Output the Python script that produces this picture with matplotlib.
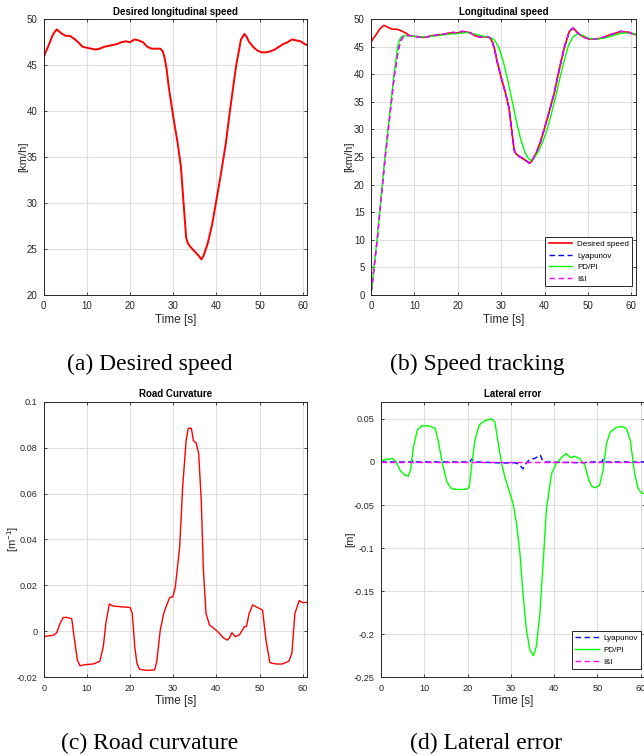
import matplotlib
matplotlib.use("Agg")
import matplotlib.pyplot as plt
from matplotlib.ticker import FuncFormatter

plt.rcParams['font.family'] = ['Liberation Sans', 'DejaVu Sans']
plt.rcParams['mathtext.fontset'] = 'custom'
plt.rcParams['mathtext.rm'] = 'Liberation Sans'

# Gewuenschte Laengsgeschwindigkeit [km/h]
speed_t = [0, 0.5, 1, 1.5, 2, 2.5, 3, 3.5, 4, 5, 6, 7, 8, 9, 10, 11, 12, 13, 14, 15,
           16, 17, 18, 19, 20, 21, 22, 23, 24, 25, 26, 27, 27.6, 28, 28.5, 29, 29.5,
           30, 31, 31.8, 32.4, 33, 33.4, 34, 35, 36, 36.5, 37, 38, 39, 39.9, 41, 42.2,
           43, 43.8, 44.6, 45.2, 45.7, 46.5, 47, 47.5, 48.5, 49.5, 50.5, 51.5, 52.5,
           53.5, 54.5, 55.5, 56.5, 57.5, 58.5, 59.5, 60.5, 61]
speed_v = [45.8, 46.5, 47.0, 47.6, 48.2, 48.6, 48.9, 48.7, 48.5, 48.2, 48.2, 47.9, 47.5,
           47.0, 46.9, 46.8, 46.7, 46.8, 47.0, 47.1, 47.2, 47.3, 47.5, 47.6, 47.5, 47.8,
           47.7, 47.5, 47.0, 46.8, 46.8, 46.8, 46.5, 45.8, 44.5, 42.5, 41.0, 39.4, 36.6,
           33.9, 30.0, 26.2, 25.6, 25.2, 24.7, 24.2, 23.85, 24.2, 25.6, 27.6, 30.0, 33.0,
           36.5, 39.5, 42.3, 45.0, 46.5, 47.8, 48.4, 48.1, 47.6, 47.0, 46.6, 46.4, 46.4,
           46.5, 46.7, 47.0, 47.3, 47.5, 47.8, 47.7, 47.6, 47.3, 47.2]

# Anfahrt der Regler (danach folgen Lyapunov und I&I der Sollgeschwindigkeit)
ramp_t = [0, 0.15, 1.5, 3.2, 5.4, 6.3, 6.9, 7.5, 8.2]
ramp_v = [0.5, 1.0, 10.5, 24.5, 40.0, 44.5, 46.2, 46.9, 47.1]
k = next(i for i, t in enumerate(speed_t) if t > 8.2)
lyap_t = ramp_t + speed_t[k:]
lyap_v = ramp_v + speed_v[k:]
ii_t = lyap_t
ii_v = lyap_v

pd_t = [0, 0.15, 1.45, 3.15, 5.3, 6.1, 6.6, 7.1, 7.6, 8.5, 10, 12, 14, 16, 18, 20, 22, 24,
        26, 27.5, 28.5, 29.5, 30.5, 31.5, 32.5, 33.5, 34.5, 35.5, 36.2, 36.8, 37.5, 38.5,
        39.5, 40.5, 41.5, 42.5, 43.5, 44.5, 45.5, 46.5, 47.5, 48, 49, 50, 51, 52, 54, 56,
        58, 60, 61]
pd_v = [0.5, 1.0, 10.5, 24.5, 40.0, 45.0, 46.3, 46.9, 47.0, 47.0, 46.9, 46.8, 46.9, 47.1,
        47.3, 47.4, 47.6, 47.3, 46.9, 46.7, 46.2, 44.8, 42.3, 39.0, 35.3, 31.5, 28.2, 25.8,
        24.8, 24.4, 24.7, 25.9, 27.6, 29.8, 32.6, 35.8, 39.2, 42.5, 45.2, 46.8, 47.3, 47.3,
        47.0, 46.6, 46.4, 46.4, 46.6, 47.1, 47.5, 47.5, 47.3]

# Strassenkruemmung [1/m]
curv_t = [0, 2.2, 3.0, 3.8, 4.5, 5.3, 6.5, 7.0, 7.8, 8.4, 9.5, 11.5, 13.0, 13.8, 14.4, 15.2,
          16.1, 20.0, 20.5, 21.1, 21.6, 22.2, 23.8, 25.7, 26.2, 27.0, 27.8, 28.5, 29.2, 29.9,
          30.5, 31.5, 32.2, 33.0, 33.5, 34.2, 34.7, 35.3, 35.9, 36.5, 37.0, 37.6, 38.4, 39.9,
          40.7, 41.5, 42.5, 43.0, 43.6, 44.4, 45.3, 46.5, 47.0, 47.6, 48.4, 49.5, 50.7, 51.5,
          52.4, 53.8, 55.3, 56.8, 57.5, 58.2, 59.2, 60.0, 61.0]
curv_v = [-0.0023, -0.0017, -0.0006, 0.0035, 0.006, 0.0061, 0.0055, -0.002, -0.0125, -0.015,
          -0.0145, -0.0142, -0.013, -0.0067, 0.0035, 0.0119, 0.011, 0.0104, 0.008, -0.0067,
          -0.014, -0.0165, -0.017, -0.0168, -0.013, 0.0006, 0.0078, 0.0115, 0.0148, 0.015,
          0.0194, 0.0369, 0.063, 0.0833, 0.0884, 0.0884, 0.083, 0.082, 0.0775, 0.057, 0.0267,
          0.0078, 0.0028, 0.0006, -0.0009, -0.0026, -0.0038, -0.003, -0.0006, -0.0023,
          -0.0016, 0.002, 0.0023, 0.0078, 0.0115, 0.0104, 0.0093, -0.0038, -0.0136, -0.0142,
          -0.0142, -0.013, -0.0096, 0.0078, 0.0134, 0.0125, 0.0126]

# Querabweichung [m]
lat_pd_t = [0, 1.3, 2.7, 3.5, 4.4, 5.5, 6.3, 6.8, 7.5, 8.4, 9.4, 10.9, 12.5, 13.2, 14.2, 15.2,
            16.3, 17.5, 19.8, 20.4, 20.9, 21.7, 22.7, 24.0, 25.5, 26.3, 27.1, 27.8, 28.6,
            29.8, 30.5, 31.3, 32.1, 32.8, 33.6, 34.4, 35.2, 35.9, 36.7, 37.5, 38.2, 39.4,
            40.5, 41.7, 42.8, 43.8, 44.8, 45.9, 47.1, 47.8, 48.6, 49.6, 50.5, 51.3, 52.1,
            53.0, 54.4, 55.5, 56.7, 57.6, 58.6, 59.4, 60.2, 61.0]
lat_pd_v = [0.0013, 0.003, 0.004, 0.0, -0.0097, -0.0153, -0.0166, -0.0097, 0.0175, 0.037,
            0.042, 0.042, 0.039, 0.025, -0.0018, -0.023, -0.031, -0.032, -0.0317, -0.029,
            -0.0057, 0.025, 0.043, 0.048, 0.05, 0.0465, 0.0214, 0.0, -0.0172, -0.0366, -0.048,
            -0.071, -0.106, -0.153, -0.195, -0.218, -0.225, -0.214, -0.176, -0.114, -0.056,
            -0.0135, -0.0018, 0.005, 0.0098, 0.005, 0.0066, 0.004, -0.0037, -0.0172, -0.028,
            -0.03, -0.027, -0.0097, 0.0214, 0.035, 0.040, 0.0414, 0.0387, 0.025, -0.0135,
            -0.031, -0.036, -0.037]
lat_lyap_t = [0, 7, 7.5, 8, 20.5, 21, 21.5, 22, 28, 31, 32, 32.8, 33.6, 34.4, 35.5, 36.8,
              37.4, 38, 47, 48, 51, 51.3, 51.8, 57.2, 57.6, 58.2, 61]
lat_lyap_v = [0, 0, 0.002, 0, 0, 0.0035, 0.001, 0, -0.0012, -0.001, -0.003, -0.008, -0.001,
              0.003, 0.004, 0.008, 0.001, 0, -0.001, 0, 0, 0.003, 0, 0, -0.002, 0, 0]
lat_ii_t = [0, 61]
lat_ii_v = [0.0003, 0.0003]

fig = plt.figure(figsize=(6.44, 7.56), dpi=100)
ax_a = fig.add_axes([0.0679, 0.6102, 0.4088, 0.3643])
ax_b = fig.add_axes([0.5761, 0.6102, 0.4110, 0.3643])
ax_c = fig.add_axes([0.0679, 0.1041, 0.4088, 0.3646])
ax_d = fig.add_axes([0.5916, 0.1041, 0.4100, 0.3646])

fmt = FuncFormatter(lambda v, p: '%g' % round(v, 4))
dash = (4, 2.5)


def style(ax, title, ylabel, ylim, yticks, ylab_x, tsize):
    ax.set_xlim(0, 61)
    ax.set_ylim(*ylim)
    ax.set_xticks(range(0, 61, 10))
    ax.set_yticks(yticks)
    ax.yaxis.set_major_formatter(fmt)
    ax.grid(True, color='#dedede', lw=0.8)
    ax.set_axisbelow(True)
    ax.tick_params(direction='in', top=True, right=True, length=2.5, width=0.6,
                   colors='#262626', labelsize=tsize, pad=4.5)
    for s in ax.spines.values():
        s.set_color('#262626')
        s.set_linewidth(0.7)
    ax.set_title(title, fontsize=7, fontweight='bold', pad=3)
    ax.set_xlabel('Time [s]', fontsize=8.5, color='#262626', labelpad=2)
    ax.set_ylabel(ylabel, fontsize=8, color='#262626')
    ax.yaxis.set_label_coords(ylab_x, 0.5)
    ax.yaxis.label.set_verticalalignment('center')


def legend(ax, anchor):
    leg = ax.legend(loc='lower right', bbox_to_anchor=anchor, borderaxespad=0,
                    fontsize=5.8, fancybox=False, framealpha=1, edgecolor='#262626',
                    handlelength=2.9, handletextpad=0.6, labelspacing=0.5, borderpad=0.4)
    leg.get_frame().set_linewidth(0.7)


ax_a.plot(speed_t, speed_v, color='#ff0000', lw=1.4)
style(ax_a, 'Desired longitudinal speed', '[km/h]', (20, 50), range(20, 51, 5), -0.079, 7)

ax_b.plot(speed_t, speed_v, color='#ff0000', lw=1.2, label='Desired speed')
ax_b.plot(lyap_t, lyap_v, color='#0000ff', lw=1.0, dashes=dash, label='Lyapunov')
ax_b.plot(pd_t, pd_v, color='#00ff00', lw=1.0, label='PD/PI')
ax_b.plot(ii_t, ii_v, color='#ff00ff', lw=1.0, dashes=dash, label='I&I')
style(ax_b, 'Longitudinal speed', '[km/h]', (0, 50), range(0, 51, 5), -0.082, 7)
legend(ax_b, (0.986, 0.031))

ax_c.plot(curv_t, curv_v, color='#ff0000', lw=1.0)
style(ax_c, 'Road Curvature', r'[m$^{\mathregular{-1}}$]', (-0.02, 0.1),
      [-0.02, 0, 0.02, 0.04, 0.06, 0.08, 0.1], -0.1155, 6.6)

ax_d.plot(lat_lyap_t, lat_lyap_v, color='#0000ff', lw=1.0, dashes=dash, label='Lyapunov')
ax_d.plot(lat_pd_t, lat_pd_v, color='#00ff00', lw=1.0, label='PD/PI')
ax_d.plot(lat_ii_t, lat_ii_v, color='#ff00ff', lw=1.0, dashes=dash, label='I&I')
style(ax_d, 'Lateral error', '[m]', (-0.25, 0.07),
      [-0.25, -0.2, -0.15, -0.1, -0.05, 0, 0.05], -0.115, 6.6)
legend(ax_d, (0.985, 0.031))

cap = dict(ha='center', va='baseline', family='Liberation Serif', fontsize=17)
fig.text(150 / 644, 1 - 370 / 756, '(a) Desired speed', **cap)
fig.text(477 / 644, 1 - 370 / 756, '(b) Speed tracking', **cap)
fig.text(150 / 644, 1 - 749 / 756, '(c) Road curvature', **cap)
fig.text(486 / 644, 1 - 749 / 756, '(d) Lateral error', **cap)

fig.savefig('out.png', dpi=100)
